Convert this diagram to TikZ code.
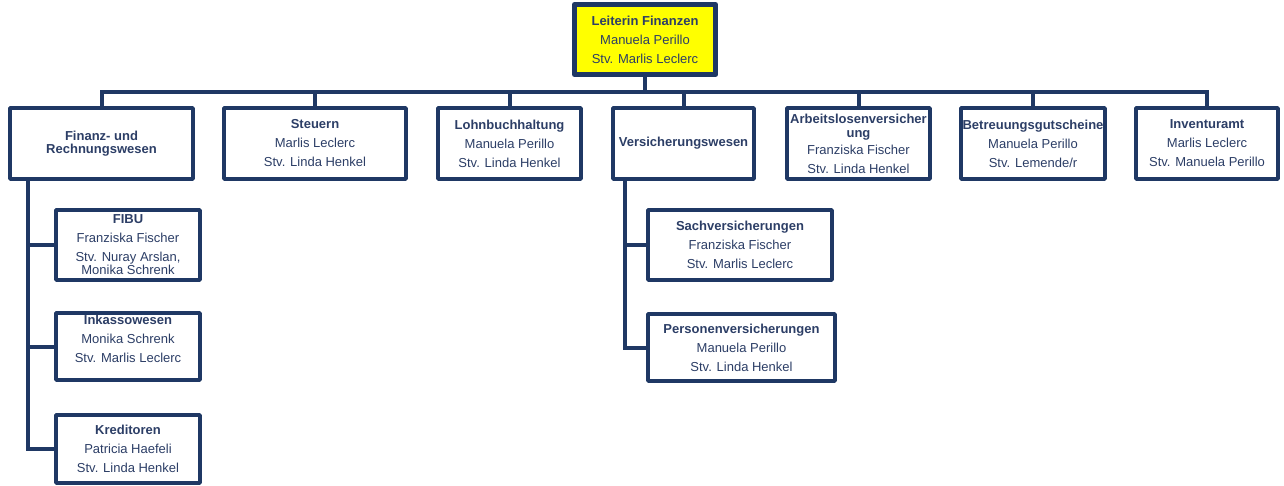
\documentclass[tikz,border=0pt]{standalone}
\usepackage{fontspec}
\setmainfont{Liberation Sans}
\usetikzlibrary{shadows}
\definecolor{navy}{RGB}{31,56,100}
\definecolor{txtc}{RGB}{44,62,102}
\definecolor{topfill}{RGB}{255,255,0}
\tikzset{
  box/.style={draw=navy, line width=3.6pt, line join=round, fill=white,
    minimum height=71pt, inner sep=0pt, align=center, text=txtc,
    font=\fontsize{13}{19}\selectfont},
  conn/.style={draw=navy, line width=4pt},
  txt/.style={inner sep=0pt, align=center, text=txtc,
    font=\fontsize{13}{19}\selectfont}
}
\begin{document}
\begin{tikzpicture}[x=1pt,y=-1pt]
\useasboundingbox (0,0) rectangle (1284,486);

% top
\node[box, fill=topfill, line width=5pt, minimum width=141pt, minimum height=70pt,
  drop shadow={opacity=0.35, shadow xshift=2pt, shadow yshift=-2pt}] (top) at (645,39.5)
  {\textbf{Leiterin Finanzen}\\Manuela Perillo\\Stv. Marlis Leclerc};

% second level
\node[box, minimum width=183pt] (fin) at (101.5,143.5) {\textbf{Finanz- und}\\[-6pt]\textbf{Rechnungswesen}};
\node[box, minimum width=182pt] (st) at (315,143.5) {\textbf{Steuern}\\Marlis Leclerc\\Stv. Linda Henkel};
\node[box, minimum width=143pt] (lohn) at (509.5,143.5) {\textbf{Lohnbuchhaltung}\\Manuela Perillo\\Stv. Linda Henkel};
\node[box, minimum width=141pt] (vers) at (683.5,143.5) {\textbf{Versicherungswesen}};
\node[box, minimum width=143pt] (arb) at (858.5,143.5) {\textbf{Arbeitslosenversicher}\\[-5pt]\textbf{ung}\\[-2pt]Franziska Fischer\\Stv. Linda Henkel};
\node[box, minimum width=144pt] (bet) at (1033,143.5) {\textbf{Betreuungsgutscheine}\\Manuela Perillo\\Stv. Lemende/r};
\node[box, minimum width=142pt] (inv) at (1207,143.5) {\textbf{Inventuramt}\\Marlis Leclerc\\Stv. Manuela Perillo};

% third level, left
\node[box, minimum width=144pt, minimum height=70pt] (fibu) at (128,245) {\textbf{FIBU}\\Franziska Fischer\\Stv. Nuray Arslan,\\[-6pt]Monika Schrenk};
\node[box, minimum width=144pt, minimum height=67pt] (ink) at (128,346.5) {};
\node[txt] (inkt) at ([yshift=8pt]ink.center) {\textbf{Inkassowesen}\\Monika Schrenk\\Stv. Marlis Leclerc};
\node[box, minimum width=144pt, minimum height=68pt] (kred) at (128,449) {\textbf{Kreditoren}\\Patricia Haefeli\\Stv. Linda Henkel};

% third level, Versicherungswesen
\node[box, minimum width=184pt, minimum height=70pt] (sach) at (740,245) {\textbf{Sachversicherungen}\\Franziska Fischer\\Stv. Marlis Leclerc};
\node[box, minimum width=187pt, minimum height=67pt] (pers) at (741.5,347.5) {\textbf{Personenversicherungen}\\Manuela Perillo\\Stv. Linda Henkel};

% connectors
\coordinate (bus) at (645,92);
\draw[conn] (top.south) -- (bus);
\draw[conn] (fin.north) |- (bus) -| (inv.north);
\foreach \n in {st,lohn,vers,arb,bet}{
  \draw[conn] (\n.north) -- (\n.north |- bus);
}
\draw[conn] ([xshift=20pt]fin.south west) |- (fibu.west);
\draw[conn] ([xshift=20pt]fin.south west) |- (ink.west);
\draw[conn] ([xshift=20pt]fin.south west) |- (kred.west);
\draw[conn] ([xshift=14pt]vers.south west) |- (sach.west);
\draw[conn] ([xshift=14pt]vers.south west) |- (pers.west);
\end{tikzpicture}
\end{document}
